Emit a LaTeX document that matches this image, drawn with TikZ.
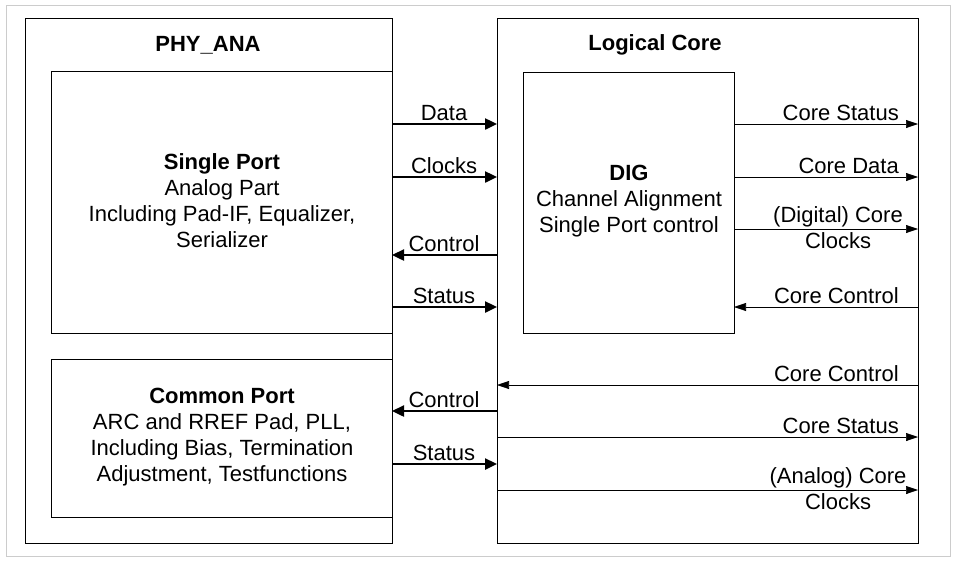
\documentclass[tikz,border=0pt]{standalone}
\usepackage{fontspec}
\setmainfont{Liberation Sans}
\usetikzlibrary{arrows.meta}
\begin{document}
\begin{tikzpicture}[x=1pt,y=-1pt,
  box/.style={draw,line width=0.6pt,anchor=north west,inner sep=0pt},
  thick arr/.style={line width=2.4pt,-{Triangle[length=12pt,width=11pt]}},
  thin arr/.style={line width=0.6pt,-{Triangle[length=12pt,width=8pt]}},
  lbl/.style={font=\fontsize{22}{26}\selectfont,inner sep=1pt},
  txt/.style={font=\fontsize{22}{26}\selectfont,align=center}]
\useasboundingbox (0,0) rectangle (957,563);
\draw[gray!40,line width=0.6pt] (6,5) rectangle (950,556);
\node[box,minimum width=367,minimum height=525] (phy) at (25,18) {};
\node[box,minimum width=421,minimum height=525] (core) at (497,18) {};
\node[box,minimum width=341,minimum height=262] (sp) at (51,71) {};
\node[box,minimum width=341,minimum height=158] (cp) at (51,359) {};
\node[box,minimum width=211,minimum height=261] (dig) at (523,72) {};
\node[txt,font=\fontsize{22}{26}\selectfont\bfseries] at (208,45) {PHY\_ANA};
\node[txt,font=\fontsize{22}{26}\selectfont\bfseries] at (655,45) {Logical Core};
\node[txt] (spt) at (222,201) {\textbf{Single Port}\\Analog Part\\Including Pad-IF, Equalizer,\\Serializer};
\node[txt] (cpt) at (222,437) {\textbf{Common Port}\\ARC and RREF Pad, PLL,\\Including Bias, Termination\\Adjustment, Testfunctions};
\node[txt] (digt) at (629,201) {\textbf{DIG}\\Channel Alignment\\Single Port control};
% middle thick arrows
\foreach \y/\t/\d in {124/Data/r,177/Clocks/r,255/Control/l,307/Status/r,411/Control/l,464/Status/r}{
  \coordinate (a\y) at (392,\y); \coordinate (b\y) at (497,\y);
  \if r\d \draw[thick arr] (a\y) -- (b\y); \else \draw[thick arr] (b\y) -- (a\y); \fi
  \node[lbl,anchor=south] at (444,\y-2) {\t};
}
% right thin arrows
\foreach \y/\x/\t/\d in {124/734/Core Status/r,177/734/Core Data/r,307/734/Core Control/l,385/497/Core Control/l,437/497/Core Status/r}{
  \coordinate (c\y) at (\x,\y); \coordinate (d\y) at (918,\y);
  \if r\d \draw[thin arr] (c\y) -- (d\y); \else \draw[thin arr] (d\y) -- (c\y); \fi
  \node[lbl,anchor=south east] at (900,\y-2) {\t};
}
\coordinate (c229) at (734,229); \coordinate (d229) at (918,229);
\draw[thin arr] (c229) -- (d229);
\node[txt,anchor=center] at (838,228) {(Digital) Core\\Clocks};
\coordinate (c490) at (497,490); \coordinate (d490) at (918,490);
\draw[thin arr] (c490) -- (d490);
\node[txt,anchor=center] at (838,489) {(Analog) Core\\Clocks};
\end{tikzpicture}
\end{document}
